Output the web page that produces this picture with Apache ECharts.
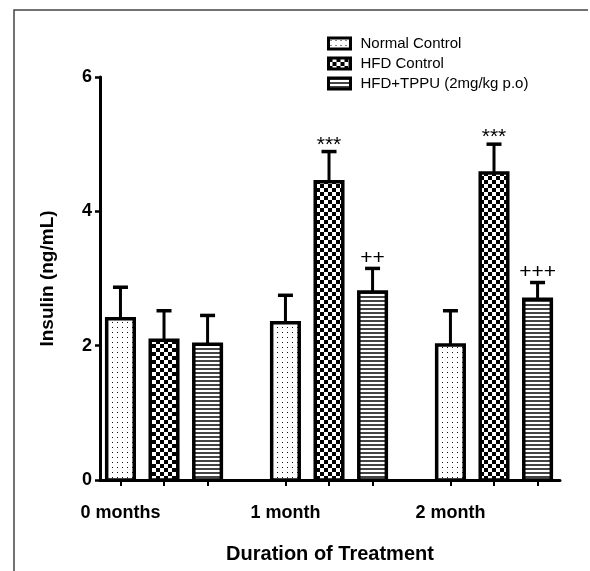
<!DOCTYPE html>
<html>
<head>
<meta charset="utf-8">
<script src="https://cdn.jsdelivr.net/npm/echarts@6/dist/echarts.min.js"></script>
<style>
  html, body { margin: 0; padding: 0; background: #fff; }
  #chart { width: 590px; height: 571px; }
</style>
</head>
<body>
<div id="chart"></div>
<script>
const groups = ['0 months', '1 month', '2 month']
const seriesNames = ['Normal Control', 'HFD Control', 'HFD+TPPU (2mg/kg p.o)']

const normalMean = [2.40, 2.34, 2.01]
const normalSem = [0.47, 0.41, 0.51]
const hfdMean = [2.08, 4.44, 4.57]
const hfdSem = [0.44, 0.45, 0.43]
const tppuMean = [2.02, 2.80, 2.69]
const tppuSem = [0.43, 0.35, 0.25]

const normalMarks = ['', '', '']
const hfdMarks = ['', '***', '***']
const tppuMarks = ['', '++', '+++']

const yTicks = [0, 2, 4, 6]

const FONT = "'Liberation Sans', Arial, sans-serif"
const barStep = 0.264
const barWidth = 0.167

const makePattern = (w, h, draw) => {
  const c = document.createElement('canvas')
  c.width = w
  c.height = h
  const ctx = c.getContext('2d')
  ctx.fillStyle = '#fff'
  ctx.fillRect(0, 0, w, h)
  draw(ctx)
  return { image: c, repeat: 'repeat' }
}

const dotFill = makePattern(5, 5, (ctx) => {
  ctx.fillStyle = '#111'
  ctx.fillRect(2, 2, 1, 1)
})
const checkFill = makePattern(8, 8, (ctx) => {
  ctx.fillStyle = '#000'
  ctx.fillRect(0, 0, 4, 4)
  ctx.fillRect(4, 4, 4, 4)
})
const stripeFill = makePattern(4, 4, (ctx) => {
  ctx.fillStyle = '#444'
  ctx.fillRect(0, 0, 4, 2)
})

const fills = [dotFill, checkFill, stripeFill]
const means = [normalMean, hfdMean, tppuMean]
const sems = [normalSem, hfdSem, tppuSem]
const marks = [normalMarks, hfdMarks, tppuMarks]

const barPos = (g, s) => g + (s - 1) * barStep

const makeRender = (s) => (params, api) => {
  const g = api.value(0)
  const mean = api.value(1)
  const sem = api.value(2)
  const x = barPos(g, s)
  const base = api.coord([x, 0])
  const top = api.coord([x, mean])
  const cap = api.coord([x, mean + sem])
  const w = api.size([barWidth, 0])[0]
  const cx = top[0]
  const label = marks[s][g]
  const children = [
    {
      type: 'line',
      shape: { x1: cx, y1: top[1], x2: cx, y2: cap[1] },
      style: { stroke: '#000', lineWidth: 3 },
    },
    {
      type: 'line',
      shape: { x1: cx - 7.5, y1: cap[1], x2: cx + 7.5, y2: cap[1] },
      style: { stroke: '#000', lineWidth: 3.5 },
    },
    {
      type: 'rect',
      shape: { x: cx - w / 2, y: top[1], width: w, height: base[1] - top[1] },
      style: { fill: fills[s], stroke: '#000', lineWidth: 3.5 },
    },
  ]
  if (label) {
    // stars sit high in their glyph box, so they need a smaller lift
    const lift = label.includes('*') ? -4 : 0
    children.push({
      type: 'text',
      style: {
        text: label,
        x: cx,
        y: cap[1] - lift,
        align: 'center',
        verticalAlign: 'bottom',
        fontSize: 21,
        fontFamily: FONT,
        fill: '#000',
      },
    })
  }
  return { type: 'group', children }
}

const chart = echarts.init(document.getElementById('chart'))

chart.setOption({
  backgroundColor: '#fff',
  animation: false,
  graphic: [
    {
      type: 'polyline',
      shape: { points: [[14, 571], [14, 10], [588, 10]] },
      style: { stroke: '#444', lineWidth: 1.5, fill: null },
    },
  ],
  legend: {
    orient: 'vertical',
    left: 327,
    top: 36,
    padding: 0,
    itemWidth: 22,
    itemHeight: 11,
    itemGap: 5,
    icon: 'rect',
    textStyle: { fontFamily: FONT, fontSize: 15, color: '#000', padding: [0, 0, 0, 5] },
    data: seriesNames.map((name, i) => ({
      name,
      itemStyle: { color: fills[i], borderColor: '#000', borderWidth: 3 },
    })),
  },
  grid: { left: 100, right: 30, top: 77, bottom: 91 },
  xAxis: {
    type: 'value',
    min: -0.388,
    max: 2.4,
    name: 'Duration of Treatment',
    nameLocation: 'middle',
    nameGap: 64,
    nameTextStyle: { fontFamily: FONT, fontSize: 20, fontWeight: 'bold', color: '#000' },
    splitLine: { show: false },
    axisLine: { show: true, onZero: false, lineStyle: { color: '#000', width: 3 } },
    axisTick: {
      show: true,
      length: 6,
      lineStyle: { color: '#000', width: 2 },
      customValues: groups.flatMap((_, g) => seriesNames.map((__, s) => barPos(g, s))),
    },
    axisLabel: {
      margin: 24,
      fontFamily: FONT,
      fontSize: 18,
      fontWeight: 'bold',
      color: '#000',
      customValues: groups.map((_, g) => barPos(g, 0)),
      formatter: (v) => groups[Math.round(v - barPos(0, 0))],
    },
  },
  yAxis: {
    type: 'value',
    min: yTicks[0],
    max: yTicks[yTicks.length - 1],
    interval: 2,
    name: 'Insulin (ng/mL)',
    nameLocation: 'middle',
    nameGap: 43,
    nameTextStyle: { fontFamily: FONT, fontSize: 19, fontWeight: 'bold', color: '#000' },
    splitLine: { show: false },
    axisLine: { show: true, onZero: false, lineStyle: { color: '#000', width: 3 } },
    axisTick: { show: true, length: 5, lineStyle: { color: '#000', width: 2.5 } },
    axisLabel: { margin: 8, fontFamily: FONT, fontSize: 18, fontWeight: 'bold', color: '#000' },
  },
  series: seriesNames.map((name, s) => ({
    name,
    type: 'custom',
    itemStyle: { color: fills[s], borderColor: '#000' },
    renderItem: makeRender(s),
    encode: { x: 0, y: 1 },
    data: groups.map((_, g) => [g, means[s][g], sems[s][g]]),
    z: 2,
  })),
})
</script>
</body>
</html>
